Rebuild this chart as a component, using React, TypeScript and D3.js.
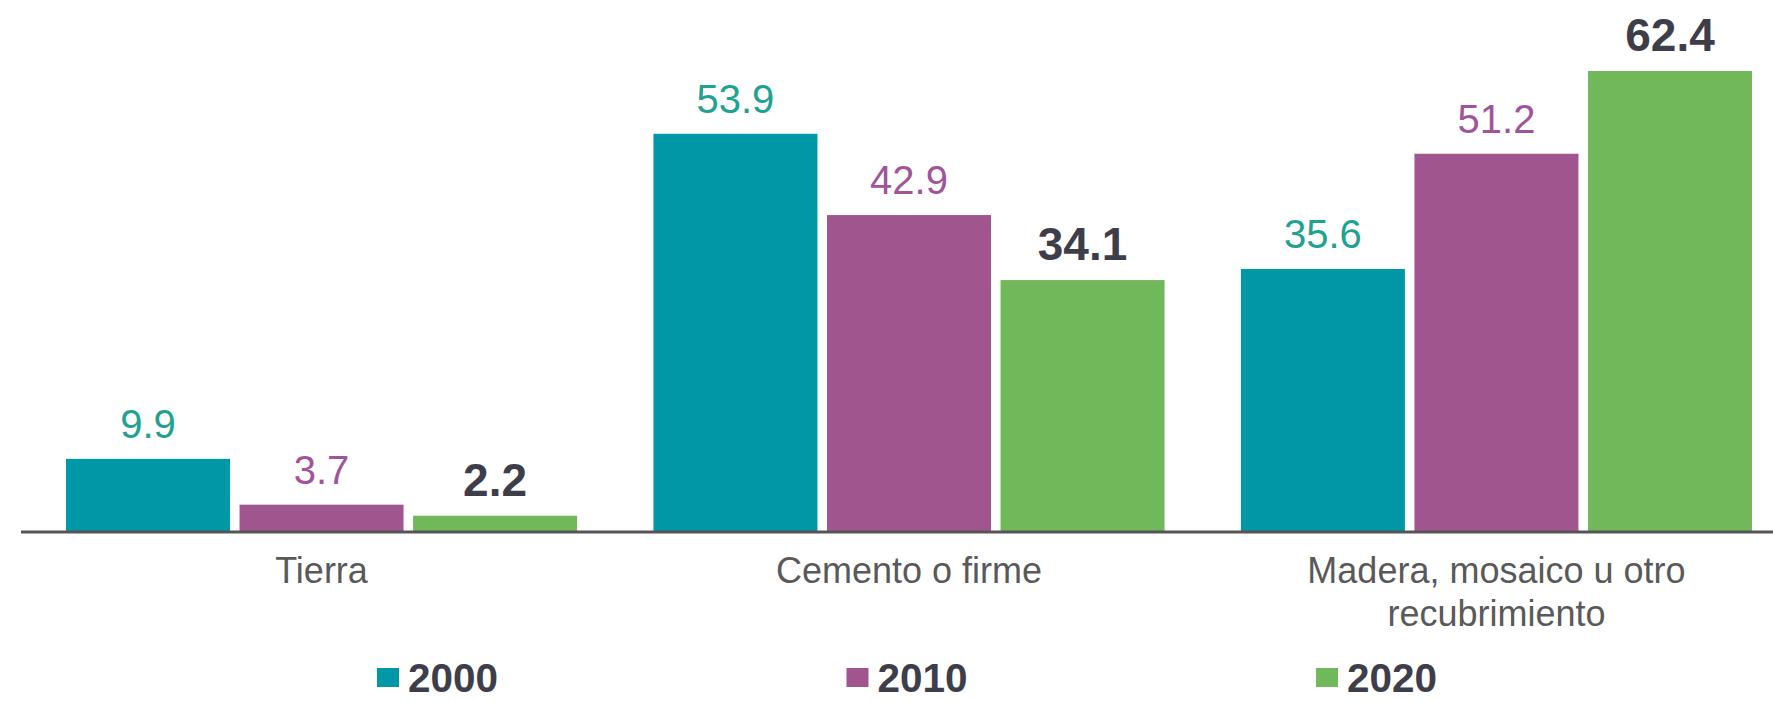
import React from "react";
import * as d3 from "d3";

const categories = ["Tierra", "Cemento o firme", "Madera, mosaico u otro recubrimiento"];
const categoryLines = [["Tierra"], ["Cemento o firme"], ["Madera, mosaico u otro", "recubrimiento"]];
const years = ["2000", "2010", "2020"];
const values2000 = [9.9, 53.9, 35.6];
const values2010 = [3.7, 42.9, 51.2];
const values2020 = [2.2, 34.1, 62.4];

const width = 1773;
const height = 701;
const baseY = 532;

const barColors = ["#0097a7", "#a0558f", "#71b85b"];
const labelColors = ["#1fa28f", "#a0559a", "#3e3e4a"];

const App: React.FC = () => {
  const series = [values2000, values2010, values2020];

  const x0 = d3.scaleBand<string>().domain(categories).range([66, 1752]).paddingInner(0.13).paddingOuter(0);
  const x1 = d3.scaleBand<string>().domain(years).range([0, x0.bandwidth()]).paddingInner(0.055);
  const y = d3.scaleLinear().domain([0, 62.4]).range([baseY, 71]);

  const legendX = d3.scalePoint<string>().domain(years).range([377, 1316]);

  return (
    <svg
      width={width}
      height={height}
      style={{ position: "absolute", left: 0, top: 0, background: "#fff" }}
      fontFamily="'Liberation Sans', Arial, sans-serif"
    >
      {categories.map((cat, ci) => (
        <g key={cat} transform={`translate(${x0(cat)},0)`}>
          {years.map((yr, si) => {
            const v = series[si][ci];
            const bx = x1(yr)!;
            const bold = si === 2;
            return (
              <g key={yr}>
                <rect x={bx} y={y(v)} width={x1.bandwidth()} height={baseY - y(v)} fill={barColors[si]} />
                <text
                  x={bx + x1.bandwidth() / 2}
                  y={y(v) - (bold ? 20 : 21)}
                  textAnchor="middle"
                  fontSize={bold ? 46 : 40}
                  fontWeight={bold ? "bold" : "normal"}
                  fill={labelColors[si]}
                >
                  {v.toFixed(1)}
                </text>
              </g>
            );
          })}
          {categoryLines[ci].map((line, li) => (
            <text
              key={li}
              x={x0.bandwidth() / 2}
              y={583 + li * 43}
              textAnchor="middle"
              fontSize={36}
              fill="#595959"
            >
              {line}
            </text>
          ))}
        </g>
      ))}

      <line x1={21} x2={width} y1={baseY} y2={baseY} stroke="#555" strokeWidth={3} />

      {years.map((yr, si) => (
        <g key={yr} transform={`translate(${legendX(yr)},0)`}>
          <rect x={0} y={668} width={22} height={19} fill={barColors[si]} />
          <text x={31} y={692} fontSize={40} fontWeight="bold" fill="#3e3e4a" textLength={90} lengthAdjust="spacingAndGlyphs">
            {yr}
          </text>
        </g>
      ))}
    </svg>
  );
};

export default App;
